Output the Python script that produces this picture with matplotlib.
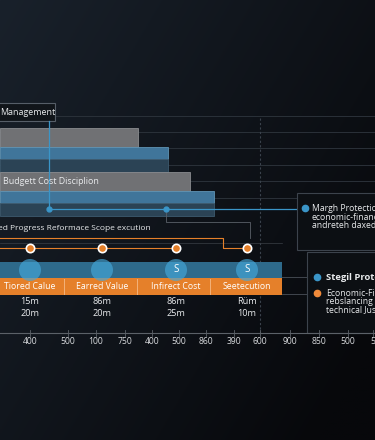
import numpy as np
import matplotlib.pyplot as plt
from matplotlib.patches import Rectangle, Circle

plt.rcParams['font.family'] = ['Open Sans', 'DejaVu Sans']

# bar rows (values in axis units)
bar_labels = ["Management", "Budgett Cost Disciplion"]
gray_values = [138, 190]
blue_values = [168, 214]

# milestone band
milestone_labels = ["Tiored Calue", "Earred Value", "Infirect Cost", "Seetecution"]
milestone_pos = [30, 102, 176, 247]
milestone_top = ["15m", "86m", "86m", "Rüm"]
milestone_bottom = ["20m", "20m", "25m", "10m"]
milestone_marks = ["", "", "S", "S"]
band_end = 282

# bottom axis
tick_pos = [30, 68, 96, 125, 152, 179, 206, 234, 260, 290, 319, 348, 373]
tick_labels = ["400", "500", "100", "750", "400", "500", "860", "390", "600",
               "900", "850", "500", "5"]

legend1 = ["Margh Protection", "economic-finance", "andreteh daxed"]
legend2_blue = "Stegil Protection"
legend2_orange = ["Economic-Finance", "rebslancing rules", "technical Justice"]

BLUE = '#3a95c8'
ORANGE = '#e5802a'
TXT = '#e8eaec'

fig = plt.figure(figsize=(3.75, 4.4), dpi=100)
ax = fig.add_axes([0, 0, 1, 1])
ax.set_xlim(0, 375)
ax.set_ylim(440, 0)
ax.axis('off')

# background gradient
gx, gy = np.meshgrid(np.linspace(0, 1, 200), np.linspace(0, 1, 200))
t = np.clip(0.65 * gx + 0.45 * gy, 0, 1)[..., None]
c0 = np.array([0x19, 0x21, 0x2b]) / 255
c1 = np.array([0x07, 0x08, 0x0b]) / 255
ax.imshow(c0 * (1 - t) + c1 * t, extent=[0, 375, 440, 0], aspect='auto', zorder=0)

# grid lines
for y in [116, 132, 148, 165, 181, 198]:
    ax.plot([0, 375], [y, y], color='#2a3139', lw=0.7, zorder=1)
ax.plot([260, 260], [118, 333], color='#3a424c', lw=0.8, ls=(0, (2, 2)), zorder=1)

# bars
rows_top = [128, 172]
for i in range(2):
    top = rows_top[i]
    ax.barh(top + 9.5, gray_values[i], height=19, left=0, color='#707174',
            edgecolor='#8a8c8f', lw=0.6, zorder=2)
    ax.barh(top + 25, blue_values[i], height=12, left=0, color='#40759a',
            edgecolor='#6094b4', lw=0.6, zorder=2)
    ax.barh(top + 37.5, blue_values[i], height=13, left=0, color='#2b4355',
            edgecolor='#3d5a6e', lw=0.6, zorder=2)

# labels
ax.add_patch(Rectangle((-5, 103), 60, 18, facecolor='#11151a', edgecolor='#565e68', lw=0.8, zorder=3))
ax.text(0, 112.5, bar_labels[0], color=TXT, fontsize=6.4, va='center', zorder=4)
ax.text(3, 181, bar_labels[1], color=TXT, fontsize=6.4, va='center', zorder=4)

# blue connectors
ax.plot([49, 49], [121, 209], color=BLUE, lw=0.9, zorder=3)
ax.plot([49, 297], [209, 209], color=BLUE, lw=0.9, zorder=3)
ax.plot([49, 166], [209, 209], 'o', color=BLUE, ms=3.5, zorder=4)
ax.plot([166, 166, 250, 250], [209, 222, 222, 238], color='#5a6068', lw=0.6, zorder=2)

ax.text(-2, 229, "ed Progress Reformace Scope excution", color=TXT, fontsize=6.0,
        va='center', zorder=4)

# orange connectors
ax.plot([0, 223, 223, 247], [238, 238, 248, 248], color=ORANGE, lw=0.8, zorder=3)
ax.plot([0, 176], [248, 248], color=ORANGE, lw=0.8, zorder=3)
ax.plot([0, 282], [243, 243], color='#3a3f46', lw=0.5, zorder=1)
ax.plot(milestone_pos, [248] * 4, 'o', mfc=ORANGE, mec='white', mew=1.2, ms=6, zorder=4)

# milestone bands
ax.barh(270, band_end, height=16, left=0, color='#2e6a8b', zorder=2)
ax.barh(286.5, band_end, height=17, left=0, color=ORANGE, zorder=2)
for i, x in enumerate(milestone_pos):
    ax.add_patch(Circle((x, 270), 11, facecolor='#45a8da', alpha=0.65, lw=0, zorder=3))
    ax.text(x, 270, milestone_marks[i], color='white', fontsize=7, ha='center',
            va='center', zorder=4)
    ax.text(x, 286.5, milestone_labels[i], color='white', fontsize=6.3, ha='center',
            va='center', zorder=4)
    ax.text(x, 302, milestone_top[i], color=TXT, fontsize=6.6, ha='center', va='center', zorder=4)
    ax.text(x, 313, milestone_bottom[i], color=TXT, fontsize=6.6, ha='center', va='center', zorder=4)
for a, b in zip(milestone_pos[:-1], milestone_pos[1:]):
    m = (a + b) / 2 - 2
    ax.plot([m, m], [279, 294], color='#f3b27a', lw=0.7, zorder=3)
for y in [277, 294]:
    ax.plot([band_end, 307], [y, y], color='#4a5058', lw=0.6, zorder=1)

# legend boxes
ax.add_patch(Rectangle((297, 193), 90, 57, facecolor='#0c0f13', edgecolor='#3c434c', lw=0.8, zorder=3))
ax.plot(305, 208.5, 'o', color=BLUE, ms=4.5, zorder=4)
for j, s in enumerate(legend1):
    ax.text(312, 208.5 + j * 8.5, s, color=TXT, fontsize=6.2, va='center', zorder=4)

ax.add_patch(Rectangle((307, 252), 80, 81, facecolor='#0c0f13', edgecolor='#3c434c', lw=0.8, zorder=3))
ax.plot(317, 277, 'o', color=BLUE, ms=4.5, zorder=4)
ax.text(326, 277, legend2_blue, color=TXT, fontsize=6.8, fontweight='bold', va='center', zorder=4)
ax.plot(317, 293, 'o', color='#f08a3a', ms=4.5, zorder=4)
for j, s in enumerate(legend2_orange):
    ax.text(326, 293 + j * 8.5, s, color=TXT, fontsize=6.2, va='center', zorder=4)

# bottom axis
ax.plot([0, 375], [333, 333], color='#5b6168', lw=0.8, zorder=3)
for x, lab in zip(tick_pos, tick_labels):
    ax.plot([x, x], [330, 336], color='#5b6168', lw=0.6, zorder=3)
    ax.text(x, 342, lab, color='#d8dadd', fontsize=6.2, ha='center', va='center', zorder=4)

fig.savefig('out.png', dpi=100)
